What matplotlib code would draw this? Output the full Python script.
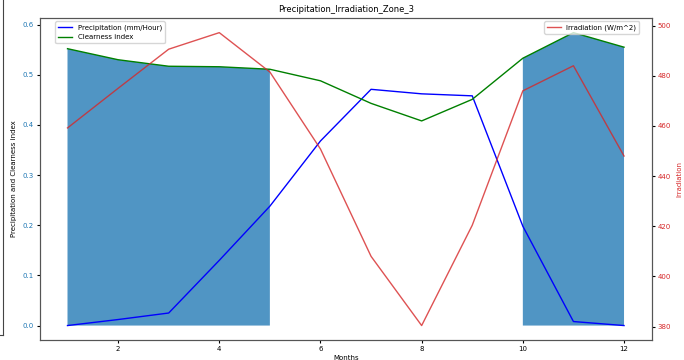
import matplotlib
matplotlib.use("Agg")
import matplotlib.pyplot as plt
from matplotlib.lines import Line2D

# monthly values
months = [1, 2, 3, 4, 5, 6, 7, 8, 9, 10, 11, 12]
precipitation = [0.0, 0.012, 0.025, 0.13, 0.238, 0.368, 0.471, 0.462, 0.458, 0.198, 0.008, 0.0]
clearness = [0.552, 0.530, 0.517, 0.516, 0.511, 0.488, 0.443, 0.408, 0.451, 0.533, 0.584, 0.555]
irradiation = [459.2, 475.0, 490.6, 497.2, 481.5, 450.8, 408.0, 380.4, 420.4, 474.0, 484.0, 448.0]
dry_months = [1, 2, 3, 4, 5, 10, 11, 12]

plt.rcParams['font.size'] = 5

fig, ax1 = plt.subplots(figsize=(6.84, 3.6), dpi=100)
fig.subplots_adjust(left=0.058, right=0.953, top=0.95, bottom=0.055)

# shade the dry season under the clearness index
ax1.fill_between(months, 0, clearness, where=[m in dry_months for m in months],
                 color='#1f77b4', alpha=0.78, linewidth=0)
ax1.plot(months, precipitation, color='blue', linewidth=1, label='Precipitation (mm/Hour)')
ax1.plot(months, clearness, color='green', linewidth=1, label='Clearness index')
ax1.set_xlabel('Months', labelpad=2)
ax1.set_ylabel('Precipitation and Clearness index', labelpad=4)
ax1.tick_params(axis='y', labelcolor='tab:blue', length=2, pad=2)
ax1.tick_params(axis='x', length=2, pad=2)
ax1.legend(loc='upper left', fontsize=5, borderpad=0.4, bbox_to_anchor=(0.02, 1.0))

ax2 = ax1.twinx()
ax2.plot(months, irradiation, color='tab:red', linewidth=1, alpha=0.8, label='Irradiation (W/m^2)')
ax2.set_ylabel('Irradiation', color='tab:red', labelpad=4)
ax2.tick_params(axis='y', labelcolor='tab:red', length=2, pad=2)
ax2.legend(loc='upper right', fontsize=5, borderpad=0.4, bbox_to_anchor=(0.985, 1.0))

for ax in (ax1, ax2):
    for s in ax.spines.values():
        s.set_color('#555555')
        s.set_linewidth(0.8)

plt.title('Precipitation_Irradiation_Zone_3', fontsize=6, pad=4)

# border line left over from the original screenshot
fig.add_artist(Line2D([0.005, 0.005], [1.0, 0.07], color='#444444', linewidth=0.8))
fig.add_artist(Line2D([0.0, 0.005], [0.07, 0.07], color='#444444', linewidth=0.8))

plt.savefig('out.png', dpi=100)
